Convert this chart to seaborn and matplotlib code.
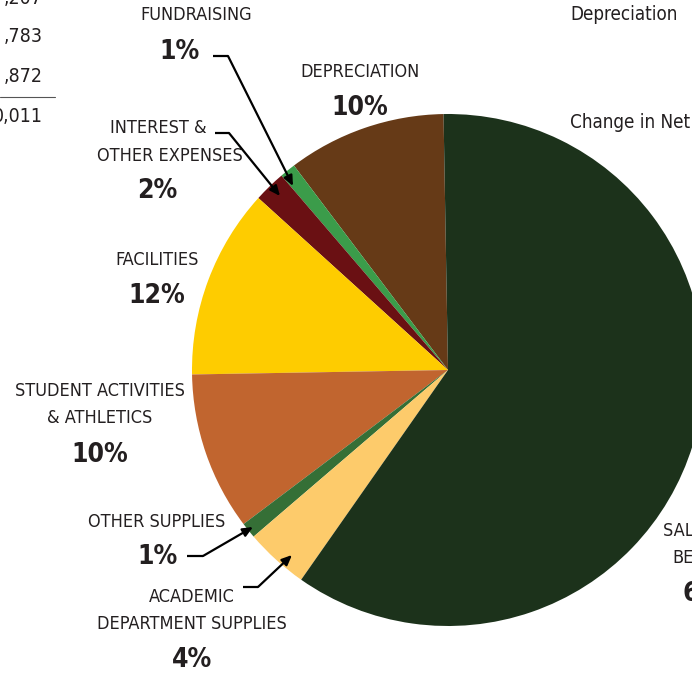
import matplotlib
matplotlib.use("Agg")
import matplotlib.pyplot as plt
import seaborn as sns

# expense shares (percent), drawn counter-clockwise from the top
categories = ["DEPRECIATION", "FUNDRAISING", "INTEREST & OTHER EXPENSES", "FACILITIES",
              "STUDENT ACTIVITIES & ATHLETICS", "OTHER SUPPLIES",
              "ACADEMIC DEPARTMENT SUPPLIES", "SALARIES & BENEFITS"]
shares = [10, 1, 2, 12, 10, 1, 4, 60]
colors = ["#663a17", "#3b9c4a", "#6a1013", "#fecc00",
          "#c1652f", "#356f36", "#fdcb6b", "#1c321b"]
pct_labels = [f"{v}%" for v in shares]

# fragments of the neighbouring table that show at the crop edges
table_values = [",207", ",783", ",872", "0,011"]
legend_items = ["Depreciation", "Change in Net"]

sns.set_theme(style="white")
plt.rcParams["font.family"] = ["DejaVu Sans"]
plt.rcParams["font.stretch"] = "condensed"
ink = "#231f20"

fig = plt.figure(figsize=(6.92, 6.76), dpi=100)
ax = fig.add_axes([0, 0, 1, 1])

# pie in pixel-like coordinates (y grows downward)
ax.pie(shares, colors=colors, startangle=-91, counterclock=False,
       center=(448, 370), radius=256,
       wedgeprops=dict(linewidth=0))
ax.set_xlim(0, 692)
ax.set_ylim(676, 0)
ax.set_aspect("auto")
ax.axis("off")

lab = dict(ha="center", va="center", color=ink, fontsize=13, fontstretch="condensed")
pct = dict(ha="center", va="center", color=ink, fontsize=19, fontweight="bold",
           fontstretch="condensed")

ax.text(196, 15, "FUNDRAISING", **lab)
ax.text(179, 52, pct_labels[1], **pct)
ax.text(360, 72, "DEPRECIATION", **lab)
ax.text(360, 108, pct_labels[0], **pct)
ax.text(158, 128, "INTEREST &", **lab)
ax.text(170, 156, "OTHER EXPENSES", **lab)
ax.text(157, 191, pct_labels[2], **pct)
ax.text(157, 260, "FACILITIES", **lab)
ax.text(157, 296, pct_labels[3], **pct)
ax.text(100, 391, "STUDENT ACTIVITIES", **lab)
ax.text(100, 418, "& ATHLETICS", **lab)
ax.text(100, 455, pct_labels[4], **pct)
ax.text(157, 522, "OTHER SUPPLIES", **lab)
ax.text(157, 557, pct_labels[5], **pct)
ax.text(192, 597, "ACADEMIC", **lab)
ax.text(192, 624, "DEPARTMENT SUPPLIES", **lab)
ax.text(192, 660, pct_labels[6], **pct)
ax.text(711, 531, "SALARIES &", **lab)
ax.text(711, 558, "BENEFITS", **lab)
ax.text(711, 594, pct_labels[7], **pct)

# leader lines: short horizontal stub then an arrow into the thin slice
leaders = [((213, 56), (228, 56), (293, 186)),
           ((215, 133), (229, 133), (280, 196)),
           ((187, 556), (203, 556), (253, 527)),
           ((243, 587), (258, 587), (292, 555))]
for start, corner, tip in leaders:
    ax.plot([start[0], corner[0]], [start[1], corner[1]], color="black", lw=1.6,
            solid_capstyle="butt")
    ax.annotate("", xy=tip, xytext=corner,
                arrowprops=dict(arrowstyle="-|>,head_length=0.5,head_width=0.22",
                                color="black", lw=1.6, shrinkA=0, shrinkB=0))

# cropped table on the left
for y, t in zip([-2, 37, 77, 117], table_values):
    ax.text(43, y, t, ha="right", va="center", color=ink, fontsize=14)
ax.plot([0, 55], [97, 97], color="#555555", lw=0.8)

# cropped legend text on the right
ax.text(570, 15, legend_items[0], ha="left", va="center", color=ink, fontsize=13.5)
ax.text(570, 122, legend_items[1], ha="left", va="center", color=ink, fontsize=13.5)

fig.savefig("out.png", dpi=100)
